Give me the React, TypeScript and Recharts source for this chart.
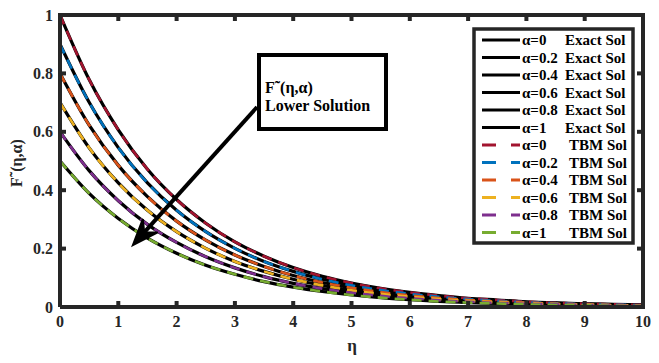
import React from 'react';
import { LineChart, Line, XAxis, YAxis, ReferenceLine } from 'recharts';

// eta grid
const eta = [0, 0.5, 1, 1.5, 2, 2.5, 3, 3.5, 4, 4.5, 5, 5.5, 6, 6.5, 7, 7.5, 8, 8.5, 9, 9.5, 10];

const alphaLabels = ['0', '0.2', '0.4', '0.6', '0.8', '1'];

// (exact and TBM curves sit on top of each other)
const fA0 = [1, 0.779, 0.607, 0.472, 0.368, 0.287, 0.223, 0.174, 0.135, 0.105, 0.082, 0.064, 0.05, 0.039, 0.03, 0.024, 0.018, 0.014, 0.011, 0.009, 0.007];
const fA02 = [0.9, 0.701, 0.546, 0.425, 0.331, 0.258, 0.201, 0.156, 0.122, 0.095, 0.074, 0.058, 0.045, 0.035, 0.027, 0.021, 0.016, 0.013, 0.01, 0.008, 0.006];
const fA04 = [0.8, 0.623, 0.485, 0.378, 0.294, 0.229, 0.178, 0.139, 0.108, 0.084, 0.066, 0.051, 0.04, 0.031, 0.024, 0.019, 0.015, 0.011, 0.009, 0.007, 0.005];
const fA06 = [0.7, 0.545, 0.425, 0.331, 0.258, 0.201, 0.156, 0.122, 0.095, 0.074, 0.057, 0.045, 0.035, 0.027, 0.021, 0.016, 0.013, 0.01, 0.008, 0.006, 0.005];
const fA08 = [0.6, 0.467, 0.364, 0.283, 0.221, 0.172, 0.134, 0.104, 0.081, 0.063, 0.049, 0.038, 0.03, 0.023, 0.018, 0.014, 0.011, 0.009, 0.007, 0.005, 0.004];
const fA1 = [0.5, 0.389, 0.303, 0.236, 0.184, 0.143, 0.112, 0.087, 0.068, 0.053, 0.041, 0.032, 0.025, 0.019, 0.015, 0.012, 0.009, 0.007, 0.006, 0.004, 0.003];

const exactSeries = [fA0, fA02, fA04, fA06, fA08, fA1];
const tbmSeries = [fA0, fA02, fA04, fA06, fA08, fA1];
const tbmColors = ['#A2142F', '#0072BD', '#D95319', '#EDB120', '#7E2F8E', '#77AC30'];

const xTicks = [0, 1, 2, 3, 4, 5, 6, 7, 8, 9, 10];
const yTicks = [0, 0.2, 0.4, 0.6, 0.8, 1];

const rows = eta.map((e, i) => {
  const r: Record<string, number> = { eta: e };
  exactSeries.forEach((s, k) => (r['ex' + k] = s[i]));
  tbmSeries.forEach((s, k) => (r['tb' + k] = s[i]));
  return r;
});

const FONT = 'Liberation Serif, Times New Roman, serif';
const AXIS = '#262626';

// chart box
const W = 659;
const H = 363;
const M = { top: 15, right: 16, left: 0, bottom: 0 };
const Y_AXIS_W = 60;
const X_AXIS_H = 56;
const PL = M.left + Y_AXIS_W;
const PT = M.top;
const PR = W - M.right;
const PB = H - M.bottom - X_AXIS_H;
const px = (v: number) => PL + ((PR - PL) * v) / 10;
const py = (v: number) => PB - (PB - PT) * v;

function Arrow(props: any) {
  const { x1, y1, x2, y2 } = props;
  const dx = x1 - x2;
  const dy = y1 - y2;
  const len = Math.sqrt(dx * dx + dy * dy);
  const ux = dx / len;
  const uy = dy / len;
  const nx = -uy;
  const ny = ux;
  const L = 26;
  const HW = 10;
  const N = 17;
  const pts = [
    [x2, y2],
    [x2 + ux * L + nx * HW, y2 + uy * L + ny * HW],
    [x2 + ux * N, y2 + uy * N],
    [x2 + ux * L - nx * HW, y2 + uy * L - ny * HW],
  ]
    .map((p) => p.join(','))
    .join(' ');
  return (
    <g>
      <line x1={x1} y1={y1} x2={x2 + ux * N} y2={y2 + uy * N} stroke="#000" strokeWidth={4} />
      <polygon points={pts} fill="#000" stroke="#000" strokeWidth={2} strokeLinejoin="miter" />
    </g>
  );
}

export default function App() {
  const tick = { fill: AXIS, fontSize: 16, fontWeight: 'bold', style: { fontFamily: FONT } };
  return (
    <div style={{ position: 'absolute', left: 0, top: 0, width: W, height: H, background: '#fff', fontFamily: FONT }}>
      <LineChart width={W} height={H} data={rows} margin={M} style={{ fontFamily: FONT }}>
        <XAxis
          dataKey="eta"
          type="number"
          domain={[0, 10]}
          ticks={xTicks}
          height={X_AXIS_H}
          tickSize={-6}
          tickMargin={15}
          tick={tick}
          stroke={AXIS}
          strokeWidth={4}
        />
        <YAxis
          type="number"
          domain={[0, 1]}
          ticks={yTicks}
          width={Y_AXIS_W}
          tickSize={-6}
          tickMargin={13}
          tick={tick}
          stroke={AXIS}
          strokeWidth={4}
        />
        {exactSeries.map((_, k) => (
          <Line
            key={'ex' + k}
            dataKey={'ex' + k}
            type="monotone"
            stroke="#000"
            strokeWidth={3.2}
            dot={false}
            isAnimationActive={false}
          />
        ))}
        {tbmSeries.map((_, k) => (
          <Line
            key={'tb' + k}
            dataKey={'tb' + k}
            type="monotone"
            stroke={tbmColors[k]}
            strokeWidth={2.6}
            strokeDasharray="10 7"
            dot={false}
            isAnimationActive={false}
          />
        ))}
        <ReferenceLine
          segment={[
            { x: 3.38, y: 0.685 },
            { x: 1.25, y: 0.212 },
          ]}
          ifOverflow="visible"
          shape={Arrow}
        />
      </LineChart>
      <svg
        width={W}
        height={H}
        style={{ position: 'absolute', left: 0, top: 0, pointerEvents: 'none', fontFamily: FONT, fontWeight: 'bold' }}
      >
        {/* top and right edges of the axes box with inward ticks */}
        <line x1={PL - 2} x2={PR + 2} y1={PT} y2={PT} stroke={AXIS} strokeWidth={4} />
        <line x1={PR} x2={PR} y1={PT} y2={PB + 2} stroke={AXIS} strokeWidth={4} />
        {xTicks.map((t) => (
          <line key={'tt' + t} x1={px(t)} x2={px(t)} y1={PT} y2={PT + 6} stroke={AXIS} strokeWidth={4} />
        ))}
        {yTicks.map((t) => (
          <line key={'rt' + t} x1={PR} x2={PR - 6} y1={py(t)} y2={py(t)} stroke={AXIS} strokeWidth={4} />
        ))}
        <text x={352} y={351} textAnchor="middle" fontSize={17} fill={AXIS}>
          η
        </text>
        <text transform="translate(22,163) rotate(-90)" textAnchor="middle" fontSize={16} fill={AXIS}>
          F˜(η,α)
        </text>
        {/* annotation box */}
        <rect x={259} y={55} width={127} height={74} fill="#fff" stroke="#000" strokeWidth={4} />
        <text x={265} y={93} fontSize={16} fill="#000">
          F˜(η,α)
        </text>
        <text x={265} y={111} fontSize={16} fill="#000">
          Lower Solution
        </text>
        {/* legend */}
        <rect x={474} y={29} width={159} height={214} fill="#fff" stroke={AXIS} strokeWidth={3.5} />
        {alphaLabels.map((a, k) => {
          const y = 40 + k * 17.5;
          return (
            <g key={'le' + k}>
              <line x1={482} x2={520} y1={y} y2={y} stroke="#000" strokeWidth={3.2} />
              <text x={522} y={y + 5} fontSize={15} fill="#000">
                α={a}
              </text>
              <text x={565} y={y + 5} fontSize={15} fill="#000">
                Exact Sol
              </text>
            </g>
          );
        })}
        {alphaLabels.map((a, k) => {
          const y = 40 + (k + 6) * 17.5;
          return (
            <g key={'lt' + k}>
              <line x1={482} x2={520} y1={y} y2={y} stroke={tbmColors[k]} strokeWidth={3} strokeDasharray="14 15" />
              <text x={522} y={y + 5} fontSize={15} fill="#000">
                α={a}
              </text>
              <text x={569} y={y + 5} fontSize={15} fill="#000">
                TBM Sol
              </text>
            </g>
          );
        })}
      </svg>
    </div>
  );
}
